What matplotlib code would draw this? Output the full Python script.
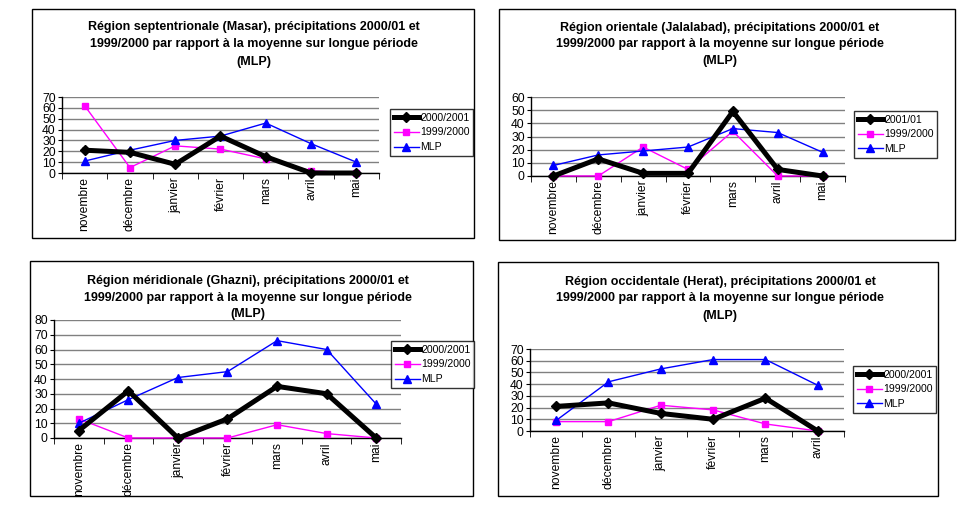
import matplotlib
matplotlib.use('Agg')
import matplotlib.pyplot as plt
from matplotlib.patches import Rectangle

plt.rcParams['font.family'] = ['Liberation Sans', 'DejaVu Sans']

# ---------------- data ----------------
months7 = ['novembre', 'décembre', 'janvier', 'février', 'mars', 'avril', 'mai']
months6 = ['novembre', 'décembre', 'janvier', 'février', 'mars', 'avril']

masar_2001 = [21, 19, 8, 34, 15, 0, 0]
masar_2000 = [62, 5, 25, 22, 13, 2, 0]
masar_mlp = [11, 21, 30, 34, 46, 27, 10]

jalal_2001 = [0, 13, 2, 2, 49, 5, 0]
jalal_2000 = [0, 0, 22, 5, 34, 0, 0]
jalal_mlp = [8, 16, 19, 22, 36, 33, 18]

ghazni_2001 = [5, 32, 0, 13, 35, 30, 0]
ghazni_2000 = [13, 0, 0, 0, 9, 3, 0]
ghazni_mlp = [10, 26, 41, 45, 66, 60, 23]

herat_2001 = [21, 24, 15, 10, 28, 0]
herat_2000 = [8, 8, 22, 18, 6, 0]
herat_mlp = [9, 42, 53, 61, 61, 39]

titles = [
    ["Région septentrionale (Masar), précipitations 2000/01 et",
     "1999/2000 par rapport à la moyenne sur longue période", "(MLP)"],
    ["Région orientale (Jalalabad), précipitations 2000/01 et",
     "1999/2000 par rapport à la moyenne sur longue période", "(MLP)"],
    ["Région méridionale (Ghazni), précipitations 2000/01 et",
     "1999/2000 par rapport à la moyenne sur longue période", "(MLP)"],
    ["Région occidentale (Herat), précipitations 2000/01 et",
     "1999/2000 par rapport à la moyenne sur longue période", "(MLP)"],
]
labels_a = ['2000/2001', '1999/2000', 'MLP']
labels_b = ['2001/01', '1999/2000', 'MLP']
ymaxes = [70, 60, 80, 70]

# ---------------- layout (pixels) ----------------
W, H = 962, 513
fig = plt.figure(figsize=(W / 100, H / 100), dpi=100)
fig.patch.set_facecolor('white')


def fx(x):
    return x / W


def fy(y):
    return 1 - y / H


panels = [
    dict(months=months7, series=(masar_2001, masar_2000, masar_mlp), labels=labels_a,
         frame=(32, 9, 474, 238), plot=(62, 97, 379, 173), legend=(390, 109),
         title_x=254, title_y=(27, 44, 62)),
    dict(months=months7, series=(jalal_2001, jalal_2000, jalal_mlp), labels=labels_b,
         frame=(499, 9, 955, 240), plot=(531, 97, 845, 176), legend=(854, 111),
         title_x=720, title_y=(28, 44, 61)),
    dict(months=months7, series=(ghazni_2001, ghazni_2000, ghazni_mlp), labels=labels_a,
         frame=(30, 261, 473, 496), plot=(54, 320, 401, 438), legend=(391, 341),
         title_x=248, title_y=(281, 298, 314)),
    dict(months=months6, series=(herat_2001, herat_2000, herat_mlp), labels=labels_a,
         frame=(498, 262, 938, 496), plot=(530, 349, 844, 431), legend=(853, 366),
         title_x=720, title_y=(282, 298, 316)),
]

styles = [
    dict(color='black', lw=3.6, marker='D', ms=5.0, mfc='black', mec='black', zorder=4),
    dict(color='#FF00FF', lw=1.0, marker='s', ms=4.6, mfc='#FF00FF', mec='#FF00FF', zorder=3),
    dict(color='#0000FF', lw=1.0, marker='^', ms=5.2, mfc='#0000FF', mec='#0000FF', zorder=3),
]

for i, p in enumerate(panels):
    x0, y0, x1, y1 = p['frame']
    fig.patches.append(Rectangle((fx(x0), fy(y1)), fx(x1 - x0), (y1 - y0) / H,
                                 transform=fig.transFigure, fill=False,
                                 edgecolor='black', lw=1.0))
    px0, py0, px1, py1 = p['plot']
    ax = fig.add_axes([fx(px0), fy(py1), fx(px1 - px0), (py1 - py0) / H])
    n = len(p['months'])
    xs = list(range(n))
    handles = []
    for s, st, lab in zip(p['series'], styles, p['labels']):
        h, = ax.plot(xs, s, label=lab, clip_on=False, **st)
        handles.append(h)
    ax.set_xlim(-0.5, n - 0.5)
    ax.set_ylim(0, ymaxes[i])
    ax.set_yticks(range(0, ymaxes[i] + 1, 10))
    ax.yaxis.grid(True, color='#808080', lw=1.0)
    ax.set_axisbelow(True)
    ax.set_xticks(xs)
    ax.set_xticklabels(p['months'], rotation=90, fontsize=8.7)
    ax.set_xticks([k - 0.5 for k in range(n + 1)], minor=True)
    ax.tick_params(axis='x', which='major', length=0, pad=3)
    ax.tick_params(axis='x', which='minor', length=4, direction='out', color='black')
    ax.tick_params(axis='y', length=3, direction='out', labelsize=8.7, pad=1.5)
    for sp in ('top', 'right'):
        ax.spines[sp].set_visible(False)
    for sp in ('left', 'bottom'):
        ax.spines[sp].set_color('black')
        ax.spines[sp].set_linewidth(1.0)
    ax.set_facecolor('none')

    lx, ly = p['legend']
    leg = fig.legend(handles=handles, loc='upper left',
                     bbox_to_anchor=(fx(lx), fy(ly)), bbox_transform=fig.transFigure,
                     borderaxespad=0, fontsize=7.6, frameon=True, fancybox=False,
                     edgecolor='black', handlelength=2.4, handletextpad=0.1,
                     labelspacing=0.45, borderpad=0.35)
    leg.get_frame().set_linewidth(1.0)

    for line, yy in zip(titles[i], p['title_y']):
        fig.text(fx(p['title_x']), fy(yy), line, ha='center', va='center',
                 fontsize=9.0, fontweight='bold')

fig.savefig('out.png', dpi=100, facecolor='white')
